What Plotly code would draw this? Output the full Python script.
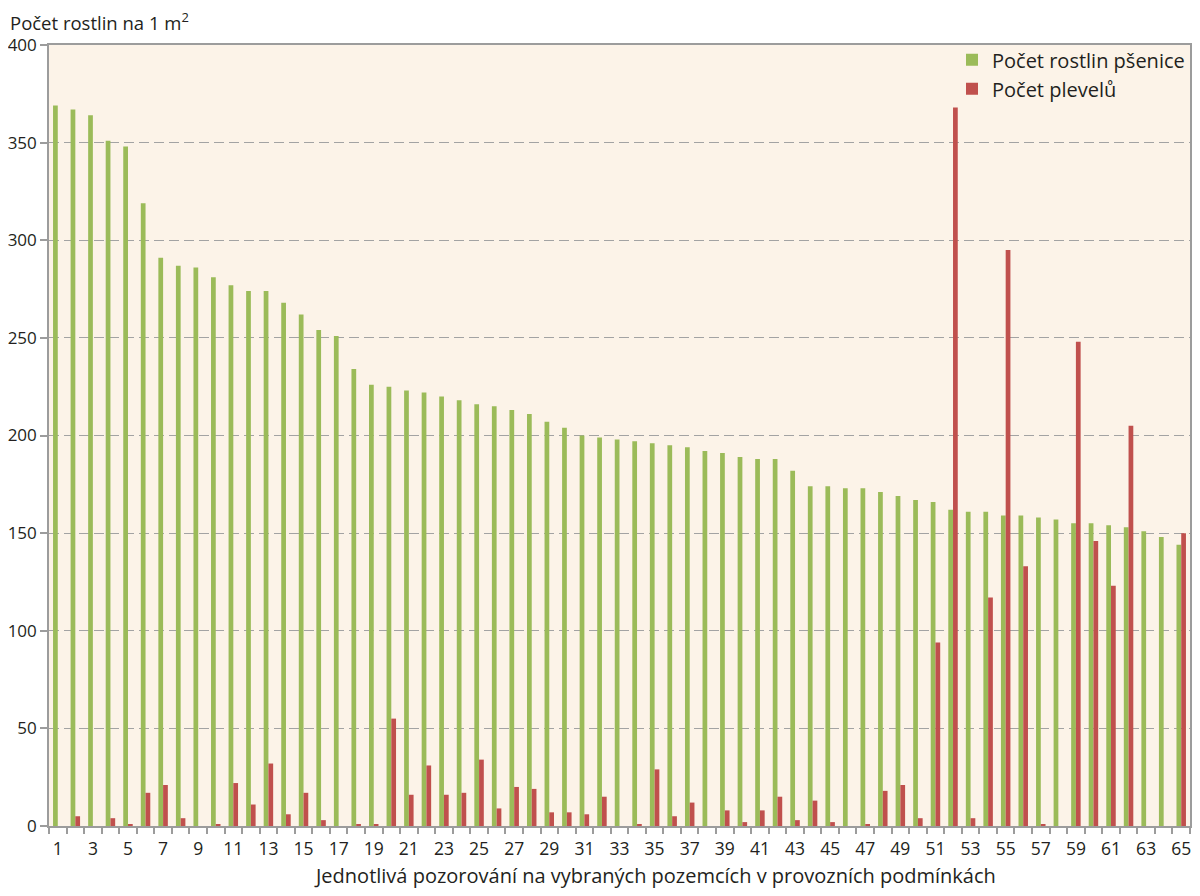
import plotly.graph_objects as go

observations = list(range(1, 66))

wheat = [369, 367, 364, 351, 348, 319, 291, 287, 286, 281,
         277, 274, 274, 268, 262, 254, 251, 234, 226, 225,
         223, 222, 220, 218, 216, 215, 213, 211, 207, 204,
         200, 199, 198, 197, 196, 195, 194, 192, 191, 189,
         188, 188, 182, 174, 174, 173, 173, 171, 169, 167,
         166, 162, 161, 161, 159, 159, 158, 157, 155, 155,
         154, 153, 151, 148, 144]

weeds = [0, 5, 0, 4, 1, 17, 21, 4, 0, 1,
         22, 11, 32, 6, 17, 3, 0, 1, 1, 55,
         16, 31, 16, 17, 34, 9, 20, 19, 7, 7,
         6, 15, 0, 1, 29, 5, 12, 0, 8, 2,
         8, 15, 3, 13, 2, 0, 1, 18, 21, 4,
         94, 368, 4, 117, 295, 133, 1, 0, 248, 146,
         123, 205, 0, 0, 150]

x_tick_vals = list(range(1, 66, 2))
y_tick_vals = list(range(0, 401, 50))

FONT = "Open Sans"
TXT = "#231F20"
GRID = "#A3A3A3"
FRAME = "#9C9C9C"

# page body has an 8px margin, so the figure is drawn 8px in from the window
W, H = 1184, 880
L, R, T, B = 41, 2, 37, 62
PW = W - L - R

fig = go.Figure()
fig.add_trace(go.Bar(x=observations, y=wheat, name="Počet rostlin pšenice",
                     marker=dict(color="#9BBB59", line=dict(width=0))))
fig.add_trace(go.Bar(x=observations, y=weeds, name="Počet plevelů",
                     marker=dict(color="#C0504D", line=dict(width=0))))

fig.update_layout(
    width=W, height=H,
    barmode="group", bargap=0.46, bargroupgap=0,
    paper_bgcolor="white", plot_bgcolor="#FCF3E8",
    margin=dict(l=L, r=R, t=T, b=B, autoexpand=False),
    font=dict(family=FONT, size=18, color=TXT),
    showlegend=True,
    legend=dict(x=1.0, xanchor="right", y=1.006, yanchor="top",
                bgcolor="rgba(0,0,0,0)", font=dict(size=20, color=TXT),
                itemwidth=30, tracegroupgap=0),
    xaxis=dict(
        range=[0.5, 65.5], tickmode="array", tickvals=x_tick_vals,
        ticktext=[str(v) for v in x_tick_vals],
        ticks="outside", ticklen=6, tickcolor="rgba(0,0,0,0)",
        showgrid=False, zeroline=False, automargin=False,
        showline=True, linecolor=FRAME, linewidth=1.6, mirror=True,
        minor=dict(ticks="outside", tick0=0.5, dtick=1, ticklen=6,
                   tickcolor=FRAME, tickwidth=1.5, showgrid=False),
        tickfont=dict(size=17.5, color=TXT),
    ),
    yaxis=dict(
        range=[0, 400], tickmode="array", tickvals=y_tick_vals,
        ticks="outside", ticklen=7, tickcolor=FRAME, tickwidth=1.5,
        showgrid=True, gridcolor=GRID, griddash="10px,5px", gridwidth=1.2,
        zeroline=False, automargin=False,
        showline=True, linecolor=FRAME, linewidth=1.6, mirror=True,
        tickfont=dict(size=17, color=TXT),
    ),
)

fig.add_annotation(text="Počet rostlin na 1 m<sup>2</sup>", xref="paper", yref="paper",
                   x=-L / PW, y=1.0, xanchor="left", yanchor="middle", yshift=24,
                   showarrow=False, font=dict(size=18.5, color=TXT))

fig.add_annotation(text="Jednotlivá pozorování na vybraných pozemcích v provozních podmínkách",
                   xref="paper", yref="paper", x=(655 - 8 - L) / PW, y=0.0,
                   xanchor="center", yanchor="middle", yshift=-49,
                   showarrow=False, font=dict(size=20, color=TXT))

fig.write_html("out.html")
